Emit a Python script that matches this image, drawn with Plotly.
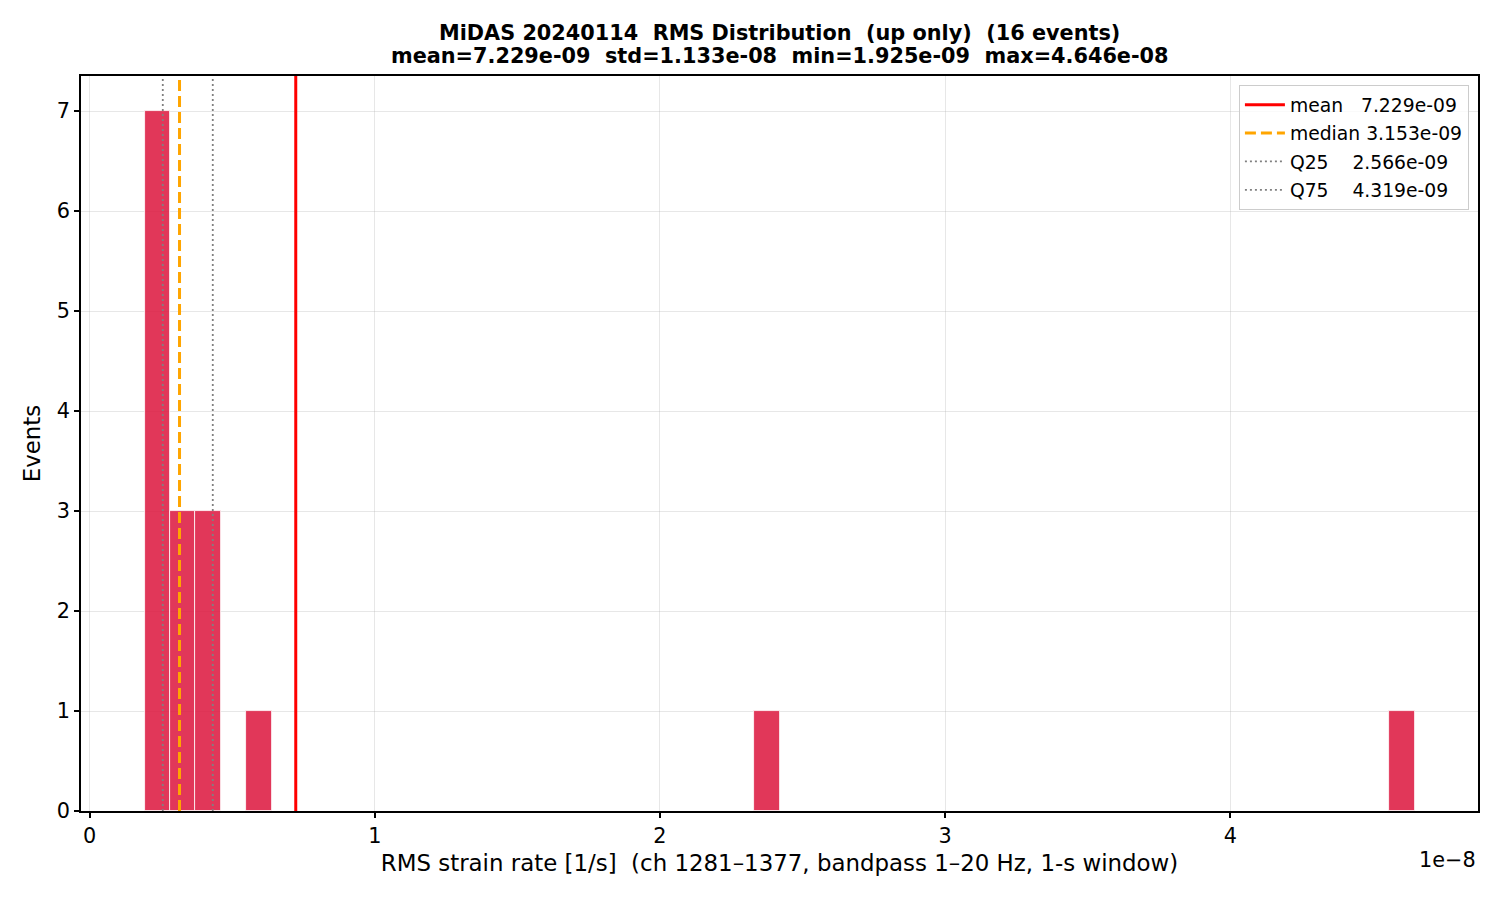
import plotly.graph_objects as go

# ---- data ----
rms_min = 1.925e-09
rms_max = 4.646e-08
n_bins = 50
bin_index = [0, 1, 2, 4, 24, 49]
bin_counts = [7, 3, 3, 1, 1, 1]
stat_names = ["mean", "median", "Q25", "Q75"]
stat_values = [7.229e-09, 3.153e-09, 2.566e-09, 4.319e-09]
std_value = 1.133e-08
n_events = 16
x_tick_vals = [0, 1e-8, 2e-8, 3e-8, 4e-8]
x_tick_text = ["0", "1", "2", "3", "4"]
y_tick_vals = [0, 1, 2, 3, 4, 5, 6, 7]

bin_width = (rms_max - rms_min) / n_bins
bin_centers = [rms_min + (i + 0.5) * bin_width for i in bin_index]

FONT = "DejaVu Sans"
NB = "\u00a0"

# page offsets (body margin 8px)
PLOT_TOP, PLOT_BOTTOM = 76, 811
def paper_y(py):
    return (PLOT_BOTTOM - py) / (PLOT_BOTTOM - PLOT_TOP)

fig = go.Figure()
fig.add_trace(go.Bar(
    x=bin_centers, y=bin_counts, width=[bin_width] * len(bin_centers),
    marker=dict(color="rgba(220,20,60,0.85)", line=dict(color="white", width=0.8)),
    showlegend=False, hoverinfo="skip",
))

labels = [
    f"mean{NB*3}{stat_values[0]:.3e}",
    f"median{NB}{stat_values[1]:.3e}",
    f"Q25{NB*4}{stat_values[2]:.3e}",
    f"Q75{NB*4}{stat_values[3]:.3e}",
]
styles = [
    dict(color="red", width=3, dash="solid"),
    dict(color="orange", width=3, dash="11px,5px"),
    dict(color="gray", width=1.8, dash="2px,3px"),
    dict(color="gray", width=1.8, dash="2px,3px"),
]
for k, (v, lab, st) in enumerate(zip(stat_values, labels, styles)):
    fig.add_trace(go.Scatter(
        x=[v, v], y=[0, 1], yaxis="y2", mode="lines", line=st,
        name=lab, hoverinfo="skip", legendgroup=f"g{k}",
    ))

title1 = f"<b>MiDAS 20240114{NB*2}RMS Distribution{NB*2}(up only){NB*2}({n_events} events)</b>"
title2 = (f"<b>mean={stat_values[0]:.3e}{NB*2}std={std_value:.3e}{NB*2}"
          f"min={rms_min:.3e}{NB*2}max={rms_max:.3e}</b>")

xr = [rms_min - 0.05 * (rms_max - rms_min), rms_max + 0.05 * (rms_max - rms_min)]

fig.update_layout(
    width=1500, height=900,
    margin=dict(l=73, r=30, t=68, b=97),
    paper_bgcolor="white", plot_bgcolor="white",
    font=dict(family=FONT, size=20.8, color="black"),
    bargap=0,
    xaxis=dict(
        range=xr, tickvals=x_tick_vals, ticktext=x_tick_text,
        showgrid=True, gridcolor="rgba(176,176,176,0.3)", gridwidth=1,
        showline=True, linecolor="black", linewidth=1.5, mirror=True,
        ticks="outside", ticklen=5, tickwidth=1.5, tickcolor="black",
        zeroline=False, tickfont=dict(size=20.8),
        title=dict(text="RMS strain rate [1/s]  (ch 1281–1377, bandpass 1–20 Hz, 1-s window)".replace("  ", NB + NB),
                   font=dict(size=22.9), standoff=8),
    ),
    yaxis=dict(
        range=[0, 7.35], tickvals=y_tick_vals,
        showgrid=True, gridcolor="rgba(176,176,176,0.3)", gridwidth=1,
        showline=True, linecolor="black", linewidth=1.5, mirror=True,
        ticks="outside", ticklen=5, tickwidth=1.5, tickcolor="black",
        zeroline=False, tickfont=dict(size=20.8),
        title=dict(text="Events", font=dict(size=22.9), standoff=10),
    ),
    yaxis2=dict(range=[0, 1], overlaying="y", visible=False, fixedrange=True),
    legend=dict(
        x=0.9935, xanchor="right", y=paper_y(85), yanchor="top",
        bgcolor="rgba(255,255,255,0.8)", bordercolor="#cccccc", borderwidth=1,
        font=dict(family=FONT, size=18.75), tracegroupgap=1, itemwidth=40,
    ),
    annotations=[
        dict(text=title1, xref="paper", yref="paper", x=0.5, y=paper_y(33),
             xanchor="center", yanchor="middle", showarrow=False,
             font=dict(family=FONT, size=20.8)),
        dict(text=title2, xref="paper", yref="paper", x=0.5, y=paper_y(56),
             xanchor="center", yanchor="middle", showarrow=False,
             font=dict(family=FONT, size=20.8)),
        dict(text="1e\u22128", xref="paper", yref="paper", x=1.0, y=paper_y(860),
             xanchor="right", yanchor="middle", showarrow=False, font=dict(size=20.8)),
    ],
)

fig.write_html("out.html")
